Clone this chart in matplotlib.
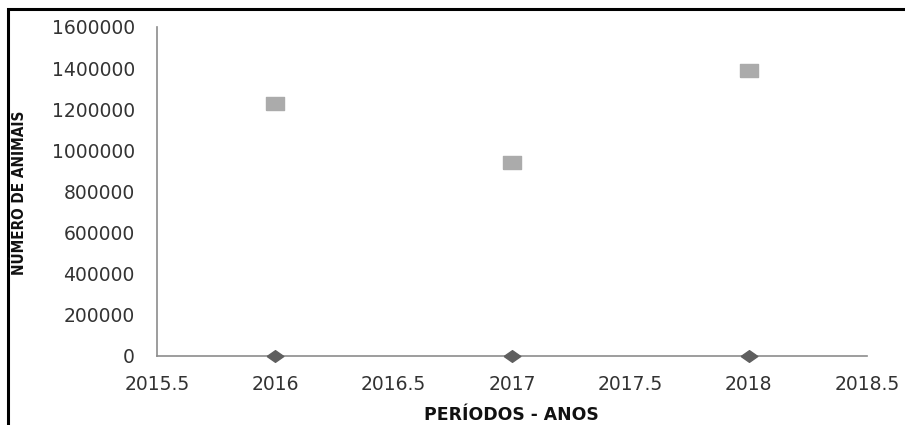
import matplotlib.pyplot as plt
from matplotlib.patches import Rectangle

anos = [2016, 2017, 2018]
serie_zero = [0, 0, 0]
animais = [1231000, 944000, 1392000]
xticks = [2015.5, 2016, 2016.5, 2017, 2017.5, 2018, 2018.5]
yticks = [0, 200000, 400000, 600000, 800000, 1000000, 1200000, 1400000, 1600000]

fig = plt.figure(figsize=(9.05, 4.25), dpi=100)
ax = fig.add_axes([0.1735, 0.1624, 0.7845, 0.7741])

diamond = [(-1, 0), (0, 0.7), (1, 0), (0, -0.7), (-1, 0)]
rect = [(-1, -0.72), (1, -0.72), (1, 0.72), (-1, 0.72), (-1, -0.72)]

ax.plot(anos, serie_zero, linestyle='none', marker=diamond, markersize=12,
        color='#5f5f5f', clip_on=False, zorder=3)
ax.plot(anos, animais, linestyle='none', marker=rect, markersize=13,
        color='#ababab', clip_on=False, zorder=3)

ax.set_xlim(2015.5, 2018.5)
ax.set_ylim(0, 1600000)
ax.set_xticks(xticks)
ax.set_xticklabels([f"{v:g}" for v in xticks])
ax.set_yticks(yticks)
ax.set_yticklabels([str(v) for v in yticks])
ax.tick_params(length=0, labelsize=13.5, labelcolor='#333333')
ax.tick_params(axis='x', pad=14)
ax.tick_params(axis='y', pad=16)

for s in ['top', 'right']:
    ax.spines[s].set_visible(False)
for s in ['left', 'bottom']:
    ax.spines[s].set_color('#8c8c8c')
    ax.spines[s].set_linewidth(1.2)

fig.text(0.565, 0.024, 'PERÍODOS - ANOS', ha='center', va='center',
         fontsize=12.4, fontweight='bold', family='DejaVu Sans', color='#111111')
fig.text(0.022, 0.547, 'NÚMERO DE ANIMAIS', ha='center', va='center',
         rotation=90, fontsize=11, fontweight='bold', fontstretch='condensed',
         family='DejaVu Sans', color='#111111')

fig.patches.append(Rectangle((0.009, -0.1), 1.2, 1.079, transform=fig.transFigure,
                             fill=False, edgecolor='black', linewidth=2.2))

fig.savefig('out.png', dpi=100)
